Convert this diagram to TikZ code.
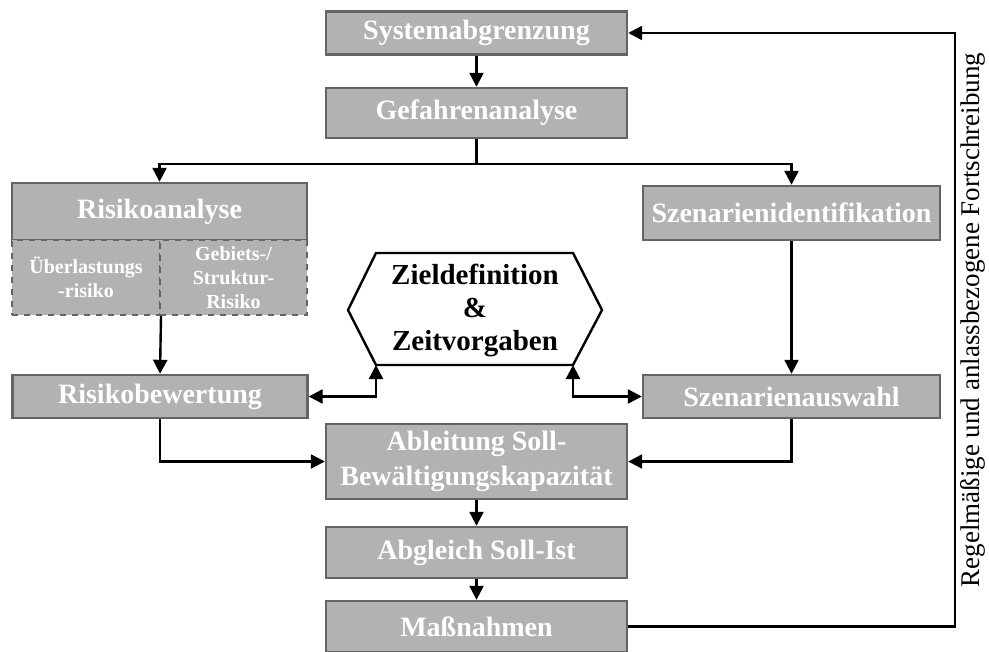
\documentclass[tikz,border=0pt]{standalone}
\usepackage{fontspec}
\setmainfont{Liberation Serif}
\usetikzlibrary{arrows.meta}

\definecolor{boxfill}{RGB}{178,178,178}
\definecolor{boxline}{RGB}{100,100,100}

\tikzset{
  prozess/.style={draw=boxline, fill=boxfill, line width=1.2pt, text=white,
    font=\fontsize{14}{17.5}\selectfont\bfseries, align=center, inner sep=0pt,
    minimum width=150.5pt},
  teilrisiko/.style={draw=boxline, fill=boxfill, dashed, line width=1pt, text=white,
    font=\fontsize{10}{12}\selectfont\bfseries, align=center, inner sep=0pt,
    minimum height=37.5pt},
  pfeil/.style={-{Triangle[length=7pt,width=7pt]}, line width=1.2pt},
  doppelpfeil/.style={{Triangle[length=7pt,width=7pt]}-{Triangle[length=7pt,width=7pt]}, line width=1.2pt},
}

\begin{document}
\begin{tikzpicture}[x=0.5pt,y=-0.5pt]

  \useasboundingbox (0,0) rectangle (989,652);

  % Hauptkette
  \node[prozess, minimum height=21.5pt] (sys) at (476.5,33) {Systemabgrenzung};
  \node[prozess, minimum height=25pt] (gef) at (476.5,113) {Gefahrenanalyse};

  % linker Zweig
  \node[prozess, minimum width=147.5pt, minimum height=28.5pt] (ana) at (159.5,211.5) {Risikoanalyse};
  \node[teilrisiko, minimum width=74pt] (uebl) at (86,277.5) {Überlastungs\\-risiko};
  \node[teilrisiko, minimum width=73.5pt] (geb) at (233.5,277.5) {Gebiets-/\\Struktur-\\Risiko};
  \node[prozess, minimum width=147.5pt, minimum height=21.5pt] (bew) at (160,396.5) {Risikobewertung};

  % rechter Zweig
  \node[prozess, minimum width=148.5pt, minimum height=27pt] (szid) at (791.5,213) {Szenarienidentifikation};
  \node[prozess, minimum width=148.5pt, minimum height=21.5pt] (szaus) at (791.5,396.5) {Szenarienauswahl};

  % Ziele
  \coordinate (hexl) at (348,310);
  \coordinate (hextl) at (376,253);
  \coordinate (hextr) at (573,253);
  \coordinate (hexr) at (602,310);
  \coordinate (hexbr) at (573,365);
  \coordinate (hexbl) at (376,365);
  \draw[line width=1.2pt, fill=white] (hexl) -- (hextl) -- (hextr) -- (hexr) -- (hexbr) -- (hexbl) -- cycle;
  \node[font=\fontsize{14.5}{16.5}\selectfont\bfseries, align=center] (ziel) at (475,310) {Zieldefinition\\\&\\Zeitvorgaben};

  % untere Kette
  \node[prozess, minimum height=37.5pt] (abl) at (476.5,461.5) {Ableitung Soll-\\Bewältigungskapazität};
  \node[prozess, minimum height=25.5pt] (abg) at (476.5,552.5) {Abgleich Soll-Ist};
  \node[prozess, minimum height=25.5pt] (mass) at (476.5,626.5) {Maßnahmen};

  % Verbindungen
  \draw[pfeil] (sys) -- (gef);
  \draw[line width=1.2pt] (gef.south) -- ++(0,25) coordinate (split);
  \draw[pfeil] (split) -| (ana.north);
  \draw[pfeil] (split) -| (szid.north);
  \draw[pfeil] (uebl.south east) -- (bew.north);
  \draw[pfeil] (szid) -- (szaus);
  \draw[doppelpfeil] (bew.east) -| (hexbl);
  \draw[doppelpfeil] (szaus.west) -| (hexbr);
  \draw[pfeil] (bew.south) |- (abl.west);
  \draw[pfeil] (szaus.south) |- (abl.east);
  \draw[pfeil] (abl) -- (abg);
  \draw[pfeil] (abg) -- (mass);

  % Rueckkopplung
  \coordinate (rueck) at (955,33);
  \draw[pfeil] (mass.east) -| (rueck) -- (sys.east);
  \node[rotate=90, font=\fontsize{13.5}{15}\selectfont] (fortschreibung) at (973,320) {Regelmäßige und anlassbezogene Fortschreibung};

\end{tikzpicture}
\end{document}
